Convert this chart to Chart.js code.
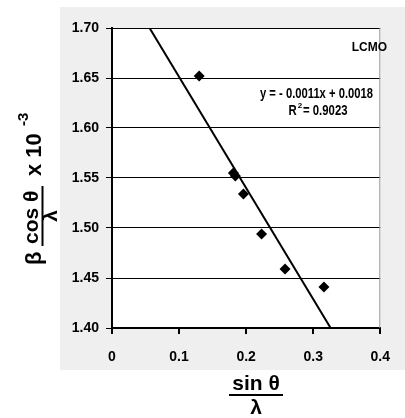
<!DOCTYPE html>
<html>
<head>
<meta charset="utf-8">
<script src="https://cdn.jsdelivr.net/npm/chart.js@4/dist/chart.umd.min.js"></script>
<style>
  html, body { margin: 0; padding: 0; background: #fff; }
  #c { display: block; }
</style>
</head>
<body>
<canvas id="c" width="405" height="418"></canvas>
<script>
// sin(theta)/lambda vs beta*cos(theta)/lambda (x 10^-3)
const sinX = [0.130, 0.181, 0.184, 0.196, 0.223, 0.258, 0.316];
const betaY = [1.652, 1.555, 1.552, 1.534, 1.494, 1.459, 1.441];
// linear trendline, as drawn (end points)
const trendX = [0.056, 0.326];
const trendY = [1.700, 1.400];
const xTicks = [0, 0.1, 0.2, 0.3, 0.4];
const yTicks = [1.40, 1.45, 1.50, 1.55, 1.60, 1.65, 1.70];

const points = sinX.map((x, i) => ({ x: x, y: betaY[i] }));
const trend = trendX.map((x, i) => ({ x: x, y: trendY[i] }));

const FONT = "'Liberation Sans', Arial, sans-serif";

// draw text squeezed to a given width, centred on cx
function fitText(ctx, text, cx, cy, w) {
  const m = ctx.measureText(text).width;
  ctx.save();
  ctx.translate(cx, cy);
  ctx.scale(w / m, 1);
  ctx.textAlign = "center";
  ctx.fillText(text, 0, 0);
  ctx.restore();
}

const bgPlugin = {
  id: "bg",
  beforeDraw(chart) {
    const ctx = chart.ctx, a = chart.chartArea;
    ctx.save();
    ctx.fillStyle = "#fff";
    ctx.fillRect(0, 0, chart.width, chart.height);
    ctx.fillStyle = "#efefef";
    ctx.fillRect(60, 7, chart.width - 60, 363);
    ctx.fillStyle = "#fff";
    ctx.fillRect(a.left, a.top, a.right - a.left, a.bottom - a.top);
    ctx.restore();
  },
  afterDraw(chart) {
    const ctx = chart.ctx, a = chart.chartArea;
    ctx.save();
    // right border of plot
    ctx.strokeStyle = "#999";
    ctx.lineWidth = 1;
    ctx.beginPath();
    ctx.moveTo(a.right - 0.5, a.top);
    ctx.lineTo(a.right - 0.5, a.bottom);
    ctx.stroke();

    ctx.fillStyle = "#000";
    ctx.strokeStyle = "#000";
    // annotations
    ctx.font = "bold 12px " + FONT;
    ctx.textAlign = "right";
    ctx.textBaseline = "middle";
    ctx.fillText("LCMO", 387, 48);
    ctx.font = "bold 14px " + FONT;
    fitText(ctx, "y = - 0.0011x + 0.0018", 316.5, 94, 113);
    fitText(ctx, "R  = 0.9023", 318, 111, 59);
    ctx.font = "bold 8px " + FONT;
    ctx.textAlign = "center";
    ctx.fillText("2", 300, 106);

    // x axis title: sin θ / λ
    ctx.font = "bold 21px " + FONT;
    ctx.textAlign = "center";
    ctx.textBaseline = "alphabetic";
    ctx.fillText("sin θ", 256, 390);
    ctx.lineWidth = 2;
    ctx.beginPath();
    ctx.moveTo(229, 395);
    ctx.lineTo(283, 395);
    ctx.stroke();
    ctx.fillText("λ", 256, 414);

    // y axis title: β cosθ/λ x 10^-3 (rotated)
    ctx.translate(0, 265);
    ctx.rotate(-Math.PI / 2);
    ctx.textAlign = "left";
    ctx.font = "bold 22px " + FONT;
    ctx.fillText("β", 0, 41);
    ctx.font = "bold 21px " + FONT;
    ctx.fillText("cos θ", 21, 38);
    ctx.beginPath();
    ctx.moveTo(19, 42.5);
    ctx.lineTo(79, 42.5);
    ctx.stroke();
    ctx.textAlign = "center";
    ctx.fillText("λ", 49, 57);
    ctx.textAlign = "left";
    ctx.font = "bold 22px " + FONT;
    ctx.fillText("x 10", 89, 41);
    ctx.font = "bold 15px " + FONT;
    ctx.fillText("-3", 139, 28);
    ctx.restore();
  }
};

new Chart(document.getElementById("c"), {
  type: "scatter",
  data: {
    datasets: [
      {
        label: "data",
        data: points,
        pointStyle: "rectRot",
        pointRadius: 5.5,
        backgroundColor: "#000",
        borderColor: "#000",
        borderWidth: 0
      },
      {
        label: "trend",
        data: trend,
        type: "line",
        showLine: true,
        pointRadius: 0,
        borderColor: "#000",
        borderWidth: 2,
        fill: false
      }
    ]
  },
  plugins: [bgPlugin],
  options: {
    responsive: false,
    animation: false,
    layout: { padding: { top: 28, right: 10, left: 0, bottom: 0 } },
    plugins: { legend: { display: false }, tooltip: { enabled: false } },
    scales: {
      x: {
        type: "linear",
        min: 0,
        max: 0.4,
        afterBuildTicks(s) { s.ticks = xTicks.map(v => ({ value: v })); },
        afterFit(s) { s.height = 90; },
        ticks: {
          color: "#000",
          font: { family: FONT, weight: "bold", size: 14 },
          padding: 15,
          callback: v => String(v)
        },
        grid: { drawOnChartArea: false, color: "#000", tickLength: 6, lineWidth: 2 },
        border: { color: "#000", width: 2 }
      },
      y: {
        type: "linear",
        min: 1.40,
        max: 1.70,
        afterBuildTicks(s) { s.ticks = yTicks.map(v => ({ value: v })); },
        afterFit(s) { s.width = 112; },
        ticks: {
          color: "#000",
          font: { family: FONT, weight: "bold", size: 14 },
          padding: 7,
          callback: v => v.toFixed(2)
        },
        grid: { color: "#000", lineWidth: 1, tickLength: 6 },
        border: { color: "#000", width: 2 }
      }
    }
  }
});
</script>
</body>
</html>
